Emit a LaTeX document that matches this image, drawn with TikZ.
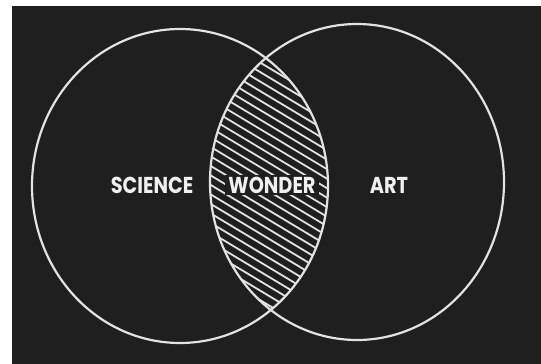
\documentclass[tikz,border=0pt]{standalone}
\usepackage{fontspec}
\usepackage{tikz}
\usetikzlibrary{positioning}
\newfontfamily\chalkfont[FakeStretch=0.84]{Poppins}
\definecolor{clrboard}{HTML}{1F1F1F}
\definecolor{clrchalk}{HTML}{E2E2E0}
\definecolor{clrlabel}{HTML}{F0F0EE}
\definecolor{clrmargin}{HTML}{FFFFFF}

\begin{document}
\begin{tikzpicture}[
    x=1pt, y=-1pt,
    every node/.style={font=\chalkfont},
    board/.style={fill=clrboard, draw=none},
    ring/.style={draw=clrchalk, line width=2.2pt},
    hatch/.style={draw=clrchalk, line width=1.8pt},
    label/.style={font=\chalkfont\fontsize{23}{23}\selectfont\bfseries, text=clrlabel, inner sep=0pt},
]
\fill[clrmargin] (0,0) rectangle (541,364);
\path[board] (12,6) rectangle (541,364);
\useasboundingbox (0,0) rectangle (541,364);
\coordinate (c_sci) at (180,186);
\coordinate (c_art) at (357,182);
\begin{scope}
  \clip (c_sci) ellipse [x radius=148, y radius=157];
  \clip (c_art) ellipse [x radius=147, y radius=158];
  \foreach \k in {0,...,27}
    \draw[hatch] (195,{14+9.5*\k}) -- ++(150,90);
\end{scope}
\draw[ring] (c_sci) ellipse [x radius=148, y radius=157];
\draw[ring] (c_art) ellipse [x radius=147, y radius=158];
\node[label] (n_science) at (152,185) {SCIENCE};
\node[label, fill=clrboard, inner xsep=3pt, inner ysep=2pt] (n_wonder) at (272,185) {WONDER};
\node[label] (n_art) at (389,185) {ART};
\end{tikzpicture}
\end{document}
